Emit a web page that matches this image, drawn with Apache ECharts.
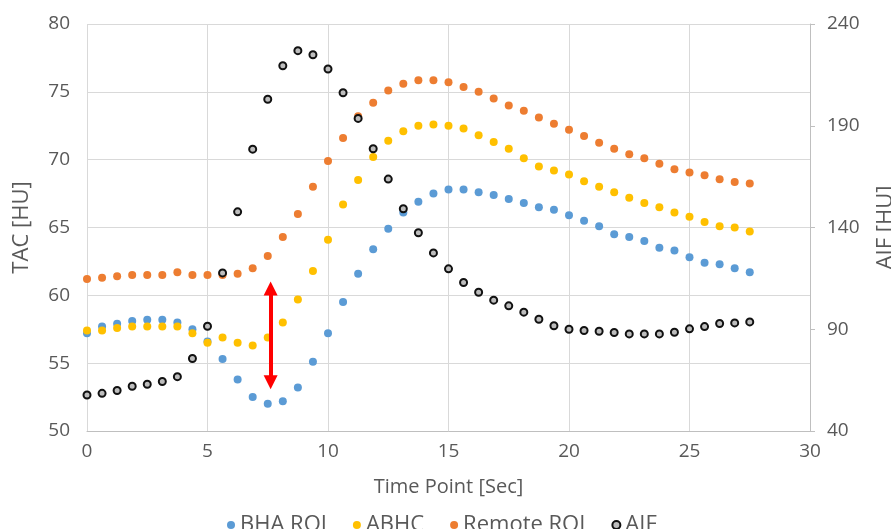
<!DOCTYPE html>
<html>
<head>
<meta charset="utf-8">
<script src="https://cdn.jsdelivr.net/npm/echarts@6/dist/echarts.min.js"></script>
<style>
html,body{margin:0;padding:0;background:#fff;overflow:hidden;width:891px;height:529px;}
#chart{width:891px;height:529px;}
</style>
</head>
<body>
<div id="chart"></div>
<script>
// Time points [sec]
var timePoints = [0,0.625,1.25,1.875,2.5,3.125,3.75,4.375,5,5.625,6.25,6.875,7.5,8.125,8.75,9.375,10,10.625,11.25,11.875,12.5,13.125,13.75,14.375,15,15.625,16.25,16.875,17.5,18.125,18.75,19.375,20,20.625,21.25,21.875,22.5,23.125,23.75,24.375,25,25.625,26.25,26.875,27.5];
// TAC [HU] (left axis)
var bhaRoi = [57.2,57.7,57.9,58.1,58.2,58.2,58.0,57.5,56.6,55.3,53.8,52.5,52.0,52.2,53.2,55.1,57.2,59.5,61.6,63.4,64.9,66.1,66.9,67.5,67.8,67.8,67.6,67.4,67.1,66.8,66.5,66.3,65.9,65.5,65.1,64.5,64.3,64.0,63.5,63.3,62.8,62.4,62.3,62.0,61.7];
var abhc = [57.4,57.4,57.6,57.7,57.7,57.7,57.7,57.2,56.5,56.9,56.5,56.3,56.9,58.0,59.7,61.8,64.1,66.7,68.5,70.2,71.4,72.1,72.5,72.6,72.5,72.3,71.8,71.3,70.8,70.1,69.5,69.2,68.9,68.4,68.0,67.6,67.2,66.8,66.5,66.1,65.8,65.4,65.1,65.0,64.7];
var remoteRoi = [61.2,61.3,61.4,61.5,61.5,61.5,61.7,61.5,61.5,61.5,61.6,62.0,62.9,64.3,66.0,68.0,69.9,71.6,73.2,74.2,75.1,75.6,75.85,75.85,75.7,75.35,75.0,74.5,74.0,73.6,73.1,72.65,72.2,71.75,71.25,70.8,70.4,70.1,69.7,69.3,69.05,68.85,68.55,68.35,68.25];
// AIF [HU] (right axis)
var aif = [57.7,58.5,59.9,62.0,63.0,64.3,66.7,75.6,91.5,117.7,147.7,178.5,203.0,219.5,226.9,224.9,217.9,206.2,193.6,178.7,163.8,149.2,137.4,127.5,119.7,113.0,108.2,104.3,101.5,98.4,94.9,91.7,90.0,89.4,89.0,88.4,87.7,87.7,87.7,88.5,90.2,91.3,92.8,93.1,93.6];
// Red double arrow annotation (time, TAC from, TAC to)
var arrowTime = 7.62;
var arrowRange = [53.6, 60.5];

var seriesNames = ['BHA ROI','ABHC','Remote ROI','AIF'];

function pairs(vals){ return timePoints.map(function(t,i){ return [t, vals[i]]; }); }

var textColor = '#595959';
var font = '"Open Sans", "Noto Sans", sans-serif';

var chart = echarts.init(document.getElementById('chart'), null, {renderer:'canvas'});
chart.setOption({
  animation:false,
  backgroundColor:'#ffffff',
  grid:{left:87,right:81,top:24,bottom:98,containLabel:false,outerBoundsMode:'none'},
  legend:{
    data:seriesNames,
    left:222, top:508,
    icon:'circle',
    itemWidth:8, itemHeight:8,
    itemGap:26,
    textStyle:{color:textColor,fontSize:22,fontFamily:font,lineHeight:24}
  },
  xAxis:{
    type:'value', min:0, max:30, interval:5,
    name:'Time Point [Sec]', nameLocation:'middle', nameGap:46,
    nameTextStyle:{color:textColor,fontSize:20,fontFamily:font},
    axisLine:{show:true,lineStyle:{color:'#bfbfbf',width:1}},
    axisTick:{show:false},
    axisLabel:{color:textColor,fontSize:19,fontFamily:font,margin:11},
    splitLine:{show:true,lineStyle:{color:'#d9d9d9',width:1}}
  },
  yAxis:[{
    type:'value', min:50, max:80, interval:5, position:'left',
    name:'TAC [HU]', nameLocation:'middle', nameGap:54, nameRotate:90,
    nameTextStyle:{color:textColor,fontSize:22,fontFamily:font},
    axisLine:{show:false}, axisTick:{show:false},
    axisLabel:{color:textColor,fontSize:19,fontFamily:font,margin:17},
    splitLine:{show:true,lineStyle:{color:'#d9d9d9',width:1}}
  },{
    type:'value', min:40, max:240, interval:50, position:'right',
    name:'AIF [HU]', nameLocation:'middle', nameGap:65, nameRotate:90,
    nameTextStyle:{color:textColor,fontSize:22,fontFamily:font},
    axisLine:{show:true,lineStyle:{color:'#bfbfbf',width:1}},
    axisTick:{show:true,length:5,lineStyle:{color:'#bfbfbf'}},
    axisLabel:{color:textColor,fontSize:19,fontFamily:font,margin:17},
    splitLine:{show:false}
  }],
  series:[
    {name:'BHA ROI',type:'scatter',yAxisIndex:0,data:pairs(bhaRoi),symbol:'circle',symbolSize:8,
     itemStyle:{color:'#5B9BD5',opacity:1}},
    {name:'ABHC',type:'scatter',yAxisIndex:0,data:pairs(abhc),symbol:'circle',symbolSize:8,
     itemStyle:{color:'#FFC000',opacity:1}},
    {name:'Remote ROI',type:'scatter',yAxisIndex:0,data:pairs(remoteRoi),symbol:'circle',symbolSize:8,
     itemStyle:{color:'#ED7D31',opacity:1},
     markLine:{
       silent:true, symbol:['triangle','triangle'], symbolSize:[14,14],
       label:{show:false},
       lineStyle:{color:'#FF0000',width:4,type:'solid'},
       emphasis:{disabled:true},
       data:[[{coord:[arrowTime,arrowRange[0]]},{coord:[arrowTime,arrowRange[1]]}]]
     }},
    {name:'AIF',type:'scatter',yAxisIndex:1,data:pairs(aif),symbol:'circle',symbolSize:7,
     itemStyle:{color:'#bdbdbd',borderColor:'#111111',borderWidth:2,opacity:1}}
  ]
});
</script>
</body>
</html>
